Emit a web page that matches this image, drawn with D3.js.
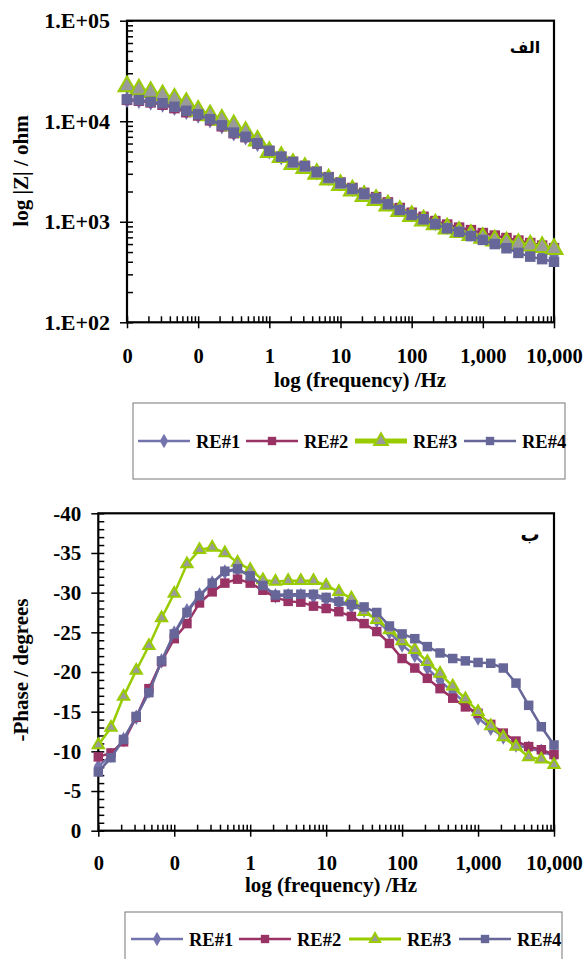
<!DOCTYPE html>
<html lang="fa">
<head>
<meta charset="UTF-8">
<title>Impedance plots</title>
<script src="https://d3js.org/d3.v7.min.js"></script>
<style>
  body { margin: 0; background: #fff; }
  svg { font-family: "Liberation Serif", "Times New Roman", serif; font-weight: bold; }
</style>
</head>
<body>
<svg id="chart" width="583" height="959"></svg>
<script>
// frequencies (Hz), 6 points per decade
const freq = [0.01, 0.0147, 0.0215, 0.0316, 0.0464, 0.0681,
  0.1, 0.147, 0.215, 0.316, 0.464, 0.681,
  1, 1.47, 2.15, 3.16, 4.64, 6.81,
  10, 14.7, 21.5, 31.6, 46.4, 68.1,
  100, 147, 215, 316, 464, 681,
  1000, 1470, 2150, 3160, 4640, 6810, 10000];

const seriesNames = ["RE#1", "RE#2", "RE#3", "RE#4"];

// |Z| (ohm)
const zRE1 = [16400, 16100, 15500, 14800, 13700, 12500, 11500, 10300, 9000, 7650, 7000, 6010, 5060, 4430, 3940, 3590, 3140, 2760, 2440, 2150, 1920, 1730, 1530, 1340, 1200, 1090, 980, 900, 835, 770, 715, 665, 615, 570, 530, 500, 470];
const zRE2 = [16300, 16000, 15400, 14600, 13500, 12300, 11400, 10200, 8900, 7600, 6950, 6000, 5050, 4430, 3950, 3600, 3150, 2780, 2460, 2170, 1940, 1760, 1560, 1370, 1230, 1120, 1016, 938, 875, 826, 772, 729, 689, 650, 614, 580, 547];
const zRE3 = [22200, 20600, 19500, 18100, 16750, 15200, 12700, 11450, 10350, 9100, 7800, 6400, 4930, 4400, 3750, 3420, 2990, 2630, 2320, 2040, 1800, 1640, 1450, 1280, 1140, 1030, 940, 855, 790, 738, 690, 650, 620, 600, 580, 560, 535];
const zRE4 = [16500, 16250, 15600, 15100, 13900, 12700, 11700, 10450, 9100, 7700, 7000, 6030, 5080, 4440, 3930, 3580, 3130, 2750, 2430, 2130, 1900, 1710, 1500, 1310, 1170, 1060, 950, 860, 795, 720, 660, 600, 545, 490, 450, 425, 400];

// phase (degrees)
const phRE1 = [-8.1, -9.5, -11.5, -14.3, -17.6, -21.4, -24.9, -27.7, -29.7, -31.2, -32.6, -32.9, -32.1, -30.8, -29.6, -29.6, -29.6, -29.5, -29.1, -28.7, -28.3, -27.8, -26.5, -25.0, -23.4, -22.1, -20.5, -18.9, -17.5, -16.1, -14.2, -12.9, -11.8, -10.8, -10.4, -10.0, -9.4];
const phRE2 = [-9.3, -9.8, -11.2, -14.3, -17.9, -21.3, -24.2, -26.1, -28.7, -30.1, -31.2, -31.7, -31.2, -30.3, -29.4, -28.9, -28.8, -28.3, -28.0, -27.6, -27.0, -26.1, -25.1, -23.6, -21.7, -20.5, -19.2, -17.9, -16.7, -15.6, -14.8, -13.4, -12.3, -11.3, -10.6, -10.2, -9.6];
const phRE3 = [-10.8, -13.0, -16.9, -20.2, -23.3, -26.8, -29.9, -33.6, -35.4, -35.7, -35.0, -33.8, -32.9, -31.6, -31.4, -31.5, -31.5, -31.5, -30.9, -30.1, -29.3, -27.6, -26.6, -25.3, -23.9, -22.8, -21.3, -19.8, -18.2, -16.6, -15.0, -13.2, -11.8, -10.6, -9.3, -9.0, -8.3];
const phRE4 = [-7.4, -9.2, -11.5, -14.4, -17.4, -21.4, -24.8, -27.5, -29.6, -31.2, -32.7, -33.0, -32.1, -30.9, -29.7, -29.8, -29.8, -29.8, -29.4, -28.9, -28.5, -28.2, -27.5, -25.8, -24.8, -24.2, -23.2, -22.4, -21.7, -21.4, -21.2, -21.1, -20.5, -18.6, -15.8, -13.1, -10.8];

// tick labels
const xTickValues = [0.01, 0.1, 1, 10, 100, 1000, 10000];
const xTickLabels = ["0", "0", "1", "10", "100", "1,000", "10,000"];
const zTickValues = [100, 1000, 10000, 100000];
const zTickLabels = ["1.E+02", "1.E+03", "1.E+04", "1.E+05"];
const phTickValues = [0, -5, -10, -15, -20, -25, -30, -35, -40];
const phTickLabels = ["0", "-5", "-10", "-15", "-20", "-25", "-30", "-35", "-40"];

// styles per series
const styles = [
  { color: "#7373ad", symbol: d3.symbolDiamond, fill: "#7373ad", stroke: "none" },
  { color: "#993366", symbol: d3.symbolSquare, fill: "#993366", stroke: "none" },
  { color: "#99cc00", symbol: d3.symbolTriangle, fill: "#9a9a9a", stroke: "#99cc00" },
  { color: "#666699", symbol: d3.symbolSquare, fill: "#666699", stroke: "none" }
];

const svg = d3.select("#chart");

function drawPanel(cfg) {
  const g = svg.append("g");
  const x = d3.scaleLog().domain([0.01, 10000]).range([cfg.left, cfg.right]);
  const y = cfg.y;

  // outward major ticks + labels
  const yAxis = g.append("g")
    .attr("transform", `translate(${cfg.left},0)`)
    .call(d3.axisLeft(y).tickValues(cfg.yTicks).tickSize(7).tickPadding(10)
      .tickFormat((d, i) => cfg.yLabels[i]));
  const yIn = g.append("g")
    .attr("transform", `translate(${cfg.left},0)`)
    .call(d3.axisRight(y).tickValues(cfg.yMinor).tickSize(6).tickFormat(""));

  const xAxis = g.append("g")
    .attr("transform", `translate(0,${cfg.bottom})`)
    .call(d3.axisBottom(x).tickValues(xTickValues).tickSize(6).tickPadding(cfg.xPad)
      .tickFormat((d, i) => xTickLabels[i]));
  const xIn = g.append("g")
    .attr("transform", `translate(0,${cfg.bottom})`)
    .call(d3.axisTop(x).tickValues(x.ticks()).tickSize(6).tickFormat(""));

  [yAxis, yIn, xAxis, xIn].forEach(a => {
    a.select(".domain").remove();
    a.attr("font-family", null).attr("font-size", 20.5);
    a.selectAll("line").attr("stroke", "#000").attr("stroke-width", 1.5);
    a.selectAll("text").attr("fill", "#000");
  });
  yAxis.attr("font-size", cfg.yFont);

  g.append("rect")
    .attr("x", cfg.left).attr("y", cfg.top)
    .attr("width", cfg.right - cfg.left).attr("height", cfg.bottom - cfg.top)
    .attr("fill", "none").attr("stroke", "#000").attr("stroke-width", 2.2);

  // series
  cfg.data.forEach((vals, si) => {
    const st = styles[si];
    const pts = vals.map((v, i) => [x(freq[i]), y(v)]);
    g.append("path")
      .attr("d", d3.line()(pts))
      .attr("fill", "none")
      .attr("stroke", st.color)
      .attr("stroke-width", si === 2 ? cfg.lw3 : cfg.lw);
    const size = st.symbol === d3.symbolTriangle ? cfg.triSize
      : st.symbol === d3.symbolDiamond ? cfg.diaSize : cfg.sqSize;
    g.selectAll(null).data(pts).join("path")
      .attr("transform", d => `translate(${d[0]},${d[1]})`)
      .attr("d", d3.symbol().type(st.symbol).size(size))
      .attr("fill", st.fill)
      .attr("stroke", st.stroke)
      .attr("stroke-width", 2);
  });

  // titles
  g.append("text")
    .attr("x", cfg.xTitleX).attr("y", cfg.xTitleY)
    .attr("text-anchor", "middle").attr("font-size", 21)
    .text("log (frequency) /Hz");
  g.append("text")
    .attr("transform", `translate(28,${cfg.yTitleY}) rotate(-90)`)
    .attr("text-anchor", "middle").attr("font-size", 21)
    .text(cfg.yTitle);
  g.append("text")
    .attr("x", cfg.tagX).attr("y", cfg.tagY)
    .attr("text-anchor", "middle")
    .attr("font-family", "DejaVu Sans").attr("font-weight", "bold")
    .attr("font-size", cfg.tagSize)
    .text(cfg.tag);

  // legend
  const L = cfg.legend;
  g.append("rect")
    .attr("x", L.x0).attr("y", L.y0).attr("width", L.x1 - L.x0).attr("height", L.y1 - L.y0)
    .attr("fill", "none").attr("stroke", "#777").attr("stroke-width", 1);
  seriesNames.forEach((name, si) => {
    const st = styles[si];
    const cx = L.items[si];
    g.append("line")
      .attr("x1", cx - 26).attr("x2", cx + 26).attr("y1", L.cy).attr("y2", L.cy)
      .attr("stroke", st.color).attr("stroke-width", si === 2 ? L.lw3 : 2.5);
    const size = st.symbol === d3.symbolTriangle ? L.triSize
      : st.symbol === d3.symbolDiamond ? 60 : 70;
    g.append("path")
      .attr("transform", `translate(${cx},${L.cy})`)
      .attr("d", d3.symbol().type(st.symbol).size(size))
      .attr("fill", st.fill).attr("stroke", st.stroke).attr("stroke-width", 2);
    g.append("text")
      .attr("x", cx + 32).attr("y", L.cy + 6.5)
      .attr("font-size", 18.5)
      .text(name);
  });
}

drawPanel({
  left: 127, right: 554, top: 20.7, bottom: 322.3,
  y: d3.scaleLog().domain([100, 100000]).range([322.3, 20.7]),
  yTicks: zTickValues, yLabels: zTickLabels, yFont: 22,
  yMinor: d3.scaleLog().domain([100, 100000]).ticks(),
  xPad: 20,
  data: [zRE1, zRE2, zRE3, zRE4],
  lw: 2.5, lw3: 4.5, sqSize: 110, diaSize: 85, triSize: 125,
  xTitleX: 360, xTitleY: 386.5,
  yTitle: "log |Z| / ohm", yTitleY: 171,
  tag: "الف", tagX: 525, tagY: 53, tagSize: 16,
  legend: { x0: 133, x1: 565, y0: 403, y1: 479, cy: 441, items: [164, 272, 381, 490], lw3: 5, triSize: 80 }
});

drawPanel({
  left: 98.3, right: 554, top: 513.3, bottom: 830.7,
  y: d3.scaleLinear().domain([0, -40]).range([830.7, 513.3]),
  yTicks: phTickValues, yLabels: phTickLabels, yFont: 21,
  yMinor: d3.range(0, -41, -1),
  xPad: 19,
  data: [phRE1, phRE2, phRE3, phRE4],
  lw: 2.5, lw3: 2.5, sqSize: 90, diaSize: 70, triSize: 55,
  xTitleX: 331, xTitleY: 892,
  yTitle: "-Phase / degrees", yTitleY: 670,
  tag: "ب", tagX: 530, tagY: 541, tagSize: 19,
  legend: { x0: 125, x1: 562, y0: 912, y1: 966, cy: 939, items: [157, 265, 375, 485], lw3: 3, triSize: 45 }
});
</script>
</body>
</html>
